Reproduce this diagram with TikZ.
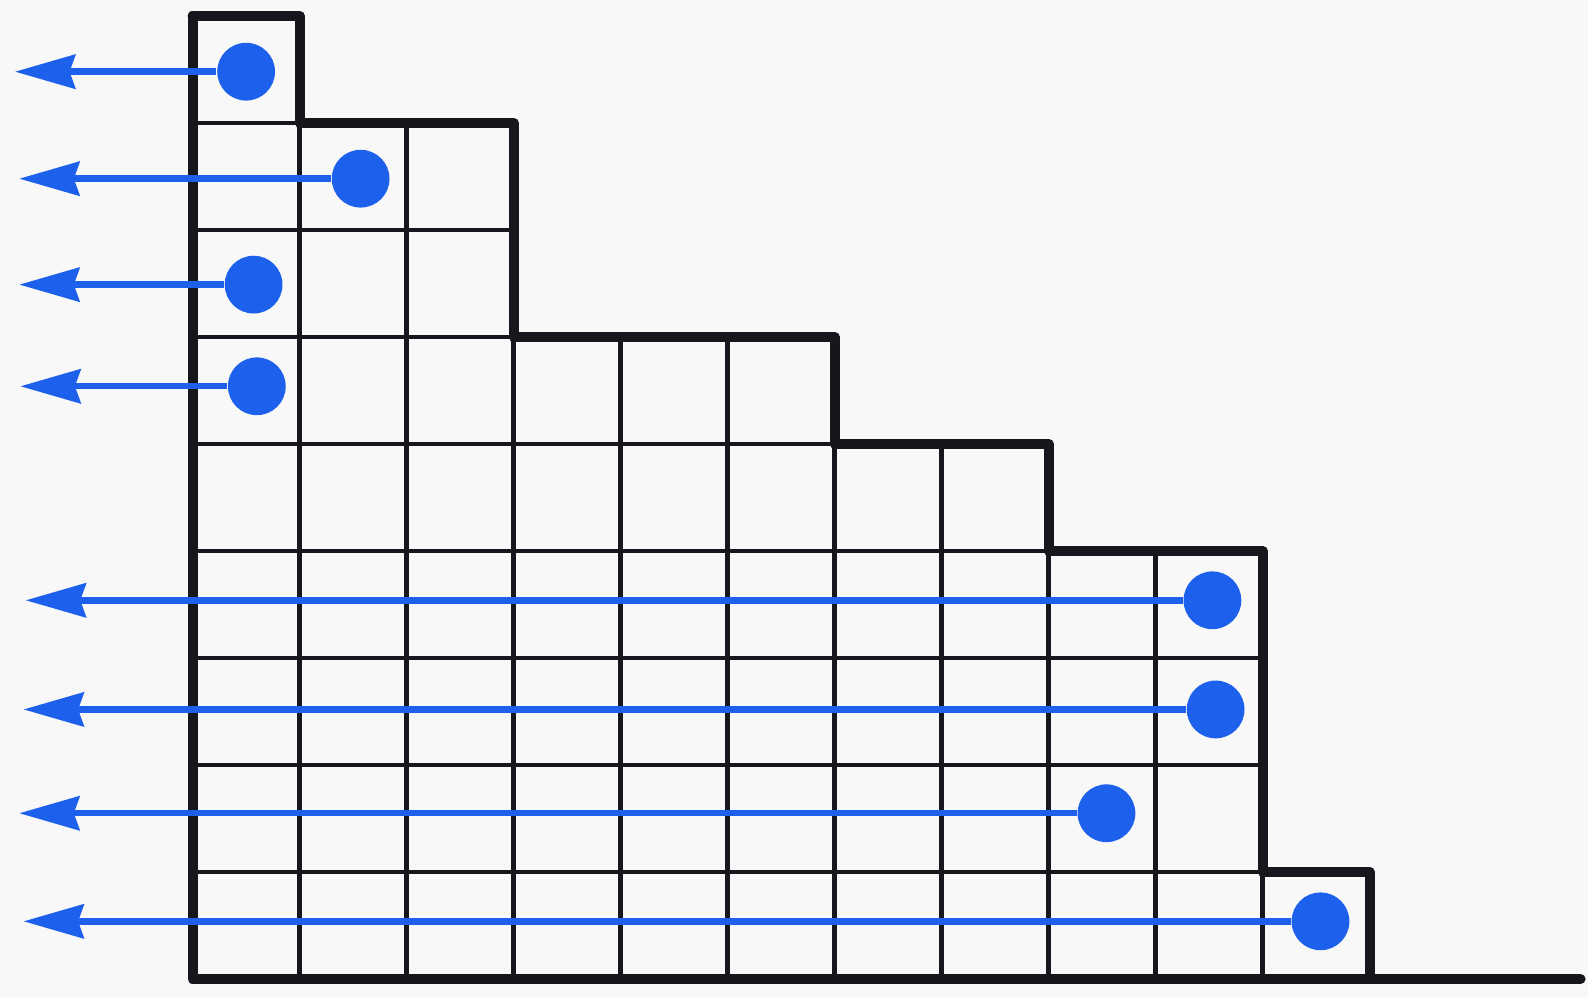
\documentclass[tikz,border=0pt]{standalone}
\usepackage{tikz}
\usetikzlibrary{arrows.meta, positioning}
\definecolor{ink}{RGB}{22, 22, 28}
\definecolor{pen}{RGB}{28, 96, 236}
\definecolor{paper}{RGB}{248, 248, 248}

\begin{document}
\begin{tikzpicture}[
  cell/.style  = {draw=ink, line width=1.2pt},
  rim/.style   = {draw=ink, line width=2.7pt, line join=round, line cap=round},
  dot/.style   = {circle, fill=pen, inner sep=0pt, minimum size=0.54cm},
  push/.style  = {-{Stealth[length=16pt, width=9pt, inset=1.5pt]},
                  draw=pen, line width=1.7pt},
]
  % paper
  \fill[paper] (-1.80,-0.18) rectangle (13.04,9.15);
  \useasboundingbox (-1.80,-0.18) rectangle (13.04,9.15);

  % boxes, row by row from the bottom
  \foreach \len [count=\r from 0] in {11,10,10,10,8,6,3,3,1}
    \foreach \c in {1,...,\len}
      \draw[cell] (\c-1,\r) rectangle (\c,\r+1);

  % staircase rim and base line
  \draw[rim] (0,9) -- (1,9) -- (1,8) -- (3,8) -- (3,6) -- (6,6) -- (6,5)
    -- (8,5) -- (8,4) -- (10,4) -- (10,1) -- (11,1) -- (11,0);
  \draw[rim] (0,9) -- (0,0) -- (12.97,0);

  % dots
  \node[dot] (p1) at (0.50,8.48) {};
  \node[dot] (p2) at (1.57,7.48) {};
  \node[dot] (p3) at (0.57,6.49) {};
  \node[dot] (p4) at (0.60,5.54) {};
  \node[dot] (p5) at (9.53,3.54) {};
  \node[dot] (p6) at (9.56,2.52) {};
  \node[dot] (p7) at (8.54,1.55) {};
  \node[dot] (p8) at (10.54,0.54) {};

  % arrow ends
  \coordinate (q1) at (-1.66,8.48);
  \coordinate (q2) at (-1.62,7.48);
  \coordinate (q3) at (-1.62,6.49);
  \coordinate (q4) at (-1.61,5.54);
  \coordinate (q5) at (-1.56,3.54);
  \coordinate (q6) at (-1.58,2.52);
  \coordinate (q7) at (-1.62,1.55);
  \coordinate (q8) at (-1.58,0.54);

  % arrows
  \foreach \i in {1,...,8}
    \draw[push] (p\i) -- (q\i);
\end{tikzpicture}
\end{document}
